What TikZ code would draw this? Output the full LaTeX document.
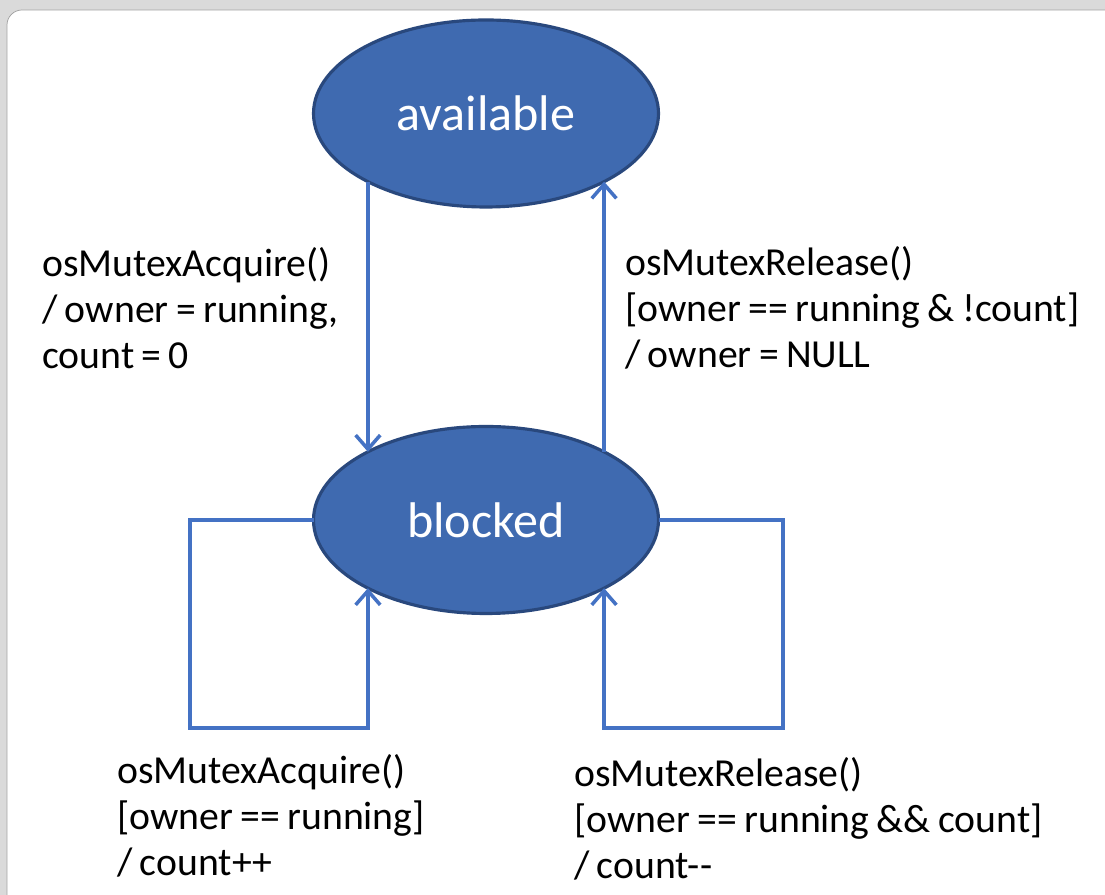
\documentclass[tikz,border=0pt]{standalone}
\usepackage{fontspec}
\setmainfont{Carlito}
\usetikzlibrary{arrows.meta,shapes.geometric}
\definecolor{statefill}{RGB}{63,106,176}
\definecolor{stateline}{RGB}{41,72,125}
\definecolor{edgeblue}{RGB}{68,114,196}
\definecolor{framegray}{RGB}{218,218,218}
\newcommand{\guardfont}{\fontsize{22.6}{26.1}\selectfont\spaceskip=0.185em\relax}
\tikzset{
  state/.style={ellipse, fill=statefill, draw=stateline, line width=1.8pt,
    minimum width=6.9cm, minimum height=3.74cm, inner sep=0pt, outer sep=0pt,
    text=white, font=\fontsize{28.5}{34}\selectfont},
  trans/.style={edgeblue, line width=2.2pt,
    -{Straight Barb[length=8pt, width=14pt, line width=2pt]}},
  guard/.style={inner sep=0pt, anchor=west, align=left, font=\guardfont}
}
\begin{document}
\begin{tikzpicture}
        \useasboundingbox (0, 0) rectangle (22.1, 17.9);
        \clip (0, 0) rectangle (22.1, 17.9);
        % frame
        \fill [framegray] (0, 0) rectangle (22.1, 17.9);
        \draw [gray!75, fill=white, rounded corners=0.3cm] (0.14, -1) rectangle (23, 17.7);

        \node [state] at (9.72, 15.63) (avail) {available};
        \node [state] at (9.72, 7.5) (blocked) {blocked};

        \node [guard] at (0.84, 11.74) (acq) {osMutexAcquire()\\/ owner = running,\\count = 0};
        \node [guard] at (12.5, 11.74) (rel) {osMutexRelease()\\{[owner == running \& !count]}\\/ owner = NULL};
        \node [guard] at (2.34, 1.58) (acqloop) {osMutexAcquire()\\{[owner == running]}\\/ count++};
        \node [guard] at (11.48, 1.52) (relloop) {osMutexRelease()\\{[owner == running \&\& count]}\\/ count-{}-};

        \draw [trans] (avail.210) -- (blocked.150);
        \draw [trans] (blocked.30) -- (avail.330);
        \draw [trans] (blocked.west) -| (3.8, 3.34) -| (blocked.210);
        \draw [trans] (blocked.east) -| (15.66, 3.34) -| (blocked.330);
\end{tikzpicture}
\end{document}
